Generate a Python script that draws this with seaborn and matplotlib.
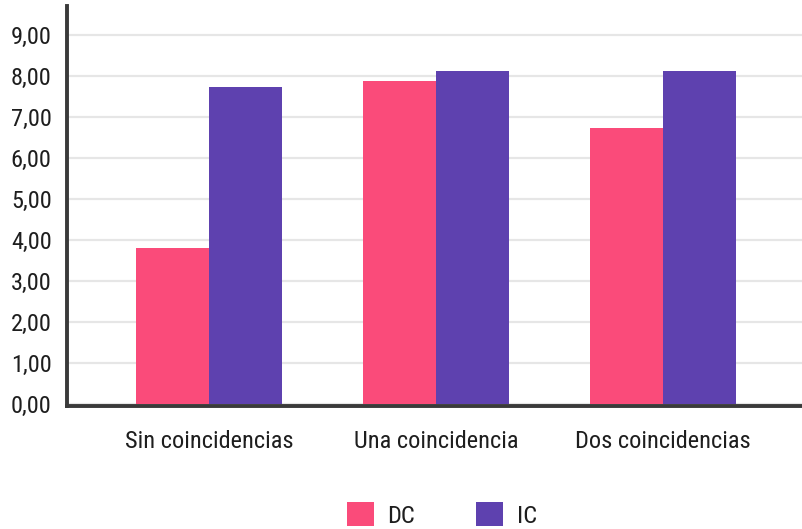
import matplotlib
matplotlib.use("Agg")
import matplotlib.pyplot as plt
from matplotlib import font_manager
from matplotlib.patches import Patch
import seaborn as sns
import pandas as pd

# Data
categories = ["Sin coincidencias", "Una coincidencia", "Dos coincidencias"]
series_names = ["DC", "IC"]
dc_values = [3.81, 7.87, 6.74]
ic_values = [7.72, 8.11, 8.11]
y_ticks = [0, 1, 2, 3, 4, 5, 6, 7, 8, 9]

colors = {"DC": "#FA4B7A", "IC": "#5E41AF"}

df = pd.DataFrame({
    "categoria": categories * 2,
    "serie": ["DC"] * len(categories) + ["IC"] * len(categories),
    "valor": dc_values + ic_values,
})

sns.set_theme(style="white")

available = {f.name for f in font_manager.fontManager.ttflist}
family = "DejaVu Sans"
for cand in ["Roboto Condensed", "Liberation Sans Narrow", "Open Sans Condensed",
             "Noto Sans Condensed", "DejaVu Sans Condensed"]:
    if cand in available:
        family = cand
        break
plt.rcParams["font.family"] = [family, "DejaVu Sans"]

text_color = "#1e1e1e"
fs = 17.6

fig = plt.figure(figsize=(8.02, 5.29), dpi=100)
# axes spans from the top of the y spine down to the x spine
ax = fig.add_axes([67 / 802, (529 - 405.5) / 529, 735 / 802, 399.5 / 529])

sns.barplot(data=df, x="categoria", y="valor", hue="serie",
            hue_order=series_names, palette=colors, width=0.643, gap=0,
            saturation=1, ax=ax, legend=False, linewidth=0)

ax.set_xlim(-0.626, 2.612)
ax.set_ylim(-0.037, 9.707)
ax.set_yticks(y_ticks)
ax.set_yticklabels([f"{v:.2f}".replace(".", ",") for v in y_ticks])
ax.yaxis.grid(True, color="#e6e6e6", linewidth=1.6)
ax.set_axisbelow(True)

ax.set_xlabel("")
ax.set_ylabel("")
ax.tick_params(axis="both", length=0, labelsize=fs, colors=text_color)
ax.tick_params(axis="y", pad=11)
ax.tick_params(axis="x", pad=18)

for side in ["top", "right"]:
    ax.spines[side].set_visible(False)
for side in ["left", "bottom"]:
    ax.spines[side].set_color("#3a3a3a")
    ax.spines[side].set_linewidth(2.8)

handles = [Patch(facecolor=colors[s], edgecolor="none") for s in series_names]
fig.legend(handles, series_names, loc="center", bbox_to_anchor=(442 / 802, 14 / 529),
           ncol=2, frameon=False, fontsize=fs, handlelength=1.1, handleheight=1.1,
           handletextpad=0.55, columnspacing=2.5, labelcolor=text_color)

fig.savefig("out.png", dpi=100, facecolor="white")
